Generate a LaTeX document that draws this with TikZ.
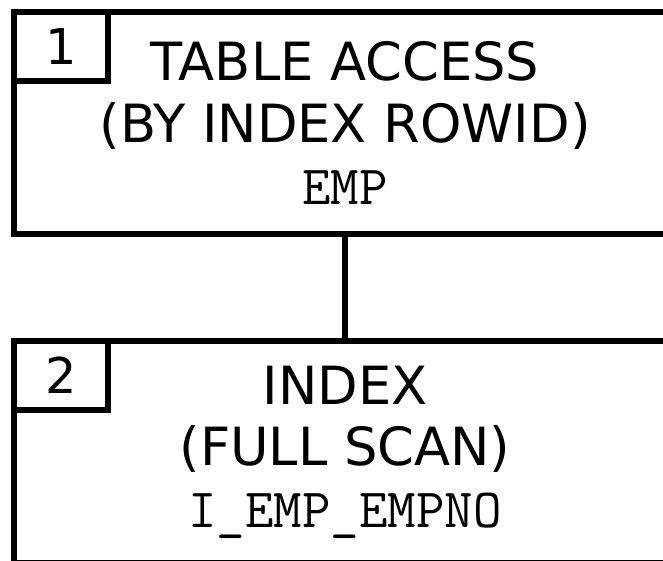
\documentclass[tikz,border=0pt]{standalone}
\usepackage{fontspec}
\setsansfont{DejaVu Sans}
\usepackage{tikz}
\usetikzlibrary{positioning}
\newcommand{\objname}[1]{{\ttfamily\fontsize{41.5}{46.2}\selectfont #1}}
\tikzset{
  opbox/.style={rectangle, draw, line width=4pt, minimum width=496.5pt, minimum height=166.5pt,
    align=center, inner sep=0pt, font=\sffamily\fontsize{39.5}{46.2}\selectfont},
  numbox/.style={rectangle, draw, line width=4pt, minimum width=70.5pt, minimum height=51.75pt,
    anchor=north west, inner sep=0pt, font=\sffamily\fontsize{37}{40}\selectfont}
}

\begin{document}
\begin{tikzpicture}[x=0.75pt, y=-0.75pt]
\path[use as bounding box, clip] (0,0) rectangle (663,560);
\node[opbox] (OP1) at (345,123) {TABLE ACCESS\\(BY INDEX ROWID)\\\objname{EMP}};
\node[opbox] (OP2) at (345,452) {INDEX\\(FULL SCAN)\\\objname{I\_EMP\_EMPNO}};
\node[numbox] (N1) at (OP1.north west) {1};
\node[numbox] (N2) at (OP2.north west) {2};
\draw[line width=4pt] (OP1) -- (OP2);
\end{tikzpicture}
\end{document}
